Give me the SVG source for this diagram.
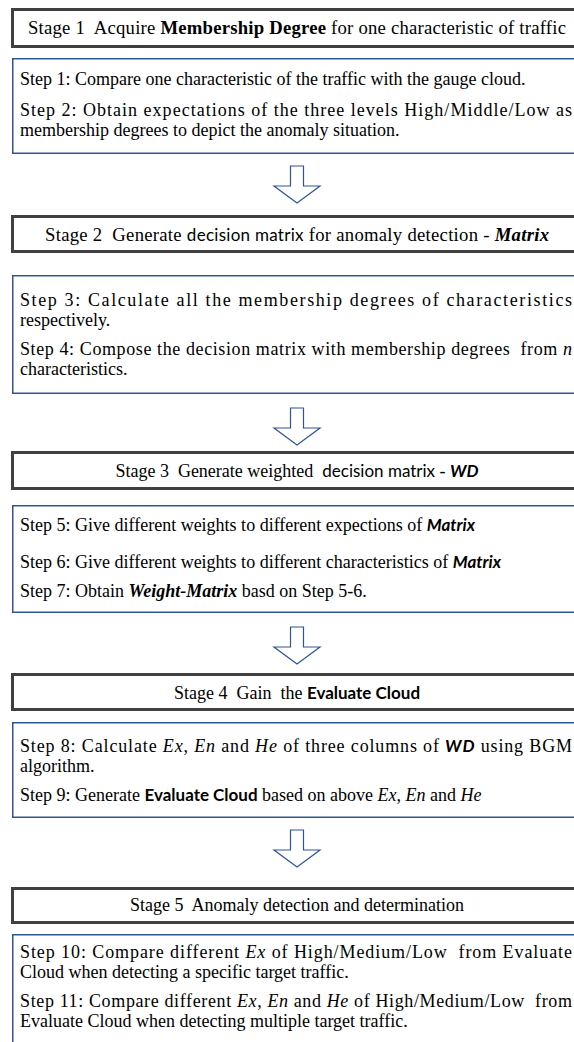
<svg xmlns="http://www.w3.org/2000/svg" width="574" height="1042" viewBox="0 0 574 1042">
<defs>
<style>
.stage{fill:#fff;stroke:#404040;stroke-width:3}
.step{fill:#fff;stroke:#2F5597;stroke-width:1.5}
.arrow{fill:#fff;stroke:#2F5597;stroke-width:1.2;stroke-linejoin:miter}
text{font-family:"Liberation Serif","Times New Roman",serif;font-size:18px;fill:#000;white-space:pre}
.c{text-anchor:middle}
.big{font-size:18.7px}
.b{font-weight:bold}
.i{font-style:italic}
.bi{font-weight:bold;font-style:italic}
.sans{font-family:Lato,"Liberation Sans",sans-serif;font-size:17px}
</style>
</defs>
<rect width="574" height="1042" fill="#fff"/>
<g id="connectors">
<polygon class="arrow" points="290.5,166 303.5,166 303.5,186 320,186 297,203 274,186 290.5,186"/>
<polygon class="arrow" points="290.5,408 303.5,408 303.5,428 320,428 297,445 274,428 290.5,428"/>
<polygon class="arrow" points="290.5,627 303.5,627 303.5,647 320,647 297,664 274,647 290.5,647"/>
<polygon class="arrow" points="290.5,830 303.5,830 303.5,850 320,850 297,867 274,850 290.5,850"/>
</g>
<g id="stage1">
<rect class="stage" x="12.5" y="9.5" width="600" height="37"/>
<text class="c big" x="297" y="34" textLength="538" lengthAdjust="spacing">Stage 1  Acquire <tspan class="b">Membership Degree</tspan> for one characteristic of traffic</text>
</g>
<g id="steps1">
<rect class="step" x="12.75" y="58.75" width="600" height="94.5"/>
<text x="20" y="85">Step 1: Compare one characteristic of the traffic with the gauge cloud.</text>
<text x="20" y="116" textLength="552" lengthAdjust="spacing">Step 2: Obtain expectations of the three levels High/Middle/Low as</text>
<text x="20" y="136">membership degrees to depict the anomaly situation.</text>
</g>
<g id="stage2">
<rect class="stage" x="12.5" y="216.5" width="600" height="35"/>
<text class="c big" x="297" y="241" textLength="504" lengthAdjust="spacing">Stage 2  Generate <tspan class="sans">decision matrix</tspan> for anomaly detection - <tspan class="bi">Matrix</tspan></text>
</g>
<g id="steps2">
<rect class="step" x="12.75" y="275.75" width="600" height="117.5"/>
<text x="20" y="306" textLength="552" lengthAdjust="spacing">Step 3: Calculate all the membership degrees of characteristics</text>
<text x="20" y="326">respectively.</text>
<text x="20" y="355" textLength="552" lengthAdjust="spacing">Step 4: Compose the decision matrix with membership degrees  from <tspan class="i">n</tspan></text>
<text x="20" y="375">characteristics.</text>
</g>
<g id="stage3">
<rect class="stage" x="12.5" y="452.5" width="600" height="36"/>
<text class="c" x="297" y="477">Stage 3  Generate weighted  <tspan class="sans">decision matrix</tspan> - <tspan class="sans bi">WD</tspan></text>
</g>
<g id="steps3">
<rect class="step" x="12.75" y="505.75" width="600" height="106.5"/>
<text x="20" y="531">Step 5: Give different weights to different expections of <tspan class="sans bi">Matrix</tspan></text>
<text x="20" y="568">Step 6: Give different weights to different characteristics of <tspan class="sans bi">Matrix</tspan></text>
<text x="20" y="597">Step 7: Obtain <tspan class="bi">Weight-Matrix</tspan> basd on Step 5-6.</text>
</g>
<g id="stage4">
<rect class="stage" x="12.5" y="674.5" width="600" height="35"/>
<text class="c" x="297" y="699">Stage 4  Gain  the <tspan class="sans b">Evaluate Cloud</tspan></text>
</g>
<g id="steps4">
<rect class="step" x="12.75" y="722.75" width="600" height="94.5"/>
<text x="20" y="752" textLength="552" lengthAdjust="spacing">Step 8: Calculate <tspan class="i">Ex</tspan>, <tspan class="i">En</tspan> and <tspan class="i">He</tspan> of three columns of <tspan class="sans bi">WD</tspan> using BGM</text>
<text x="20" y="772">algorithm.</text>
<text x="20" y="801">Step 9: Generate <tspan class="sans b">Evaluate Cloud</tspan> based on above <tspan class="i">Ex</tspan>, <tspan class="i">En</tspan> and <tspan class="i">He</tspan></text>
</g>
<g id="stage5">
<rect class="stage" x="12.5" y="888.5" width="600" height="34"/>
<text class="c" x="297" y="911">Stage 5  Anomaly detection and determination</text>
</g>
<g id="steps5">
<rect class="step" x="12.75" y="934.75" width="600" height="130"/>
<text x="20" y="958" textLength="552" lengthAdjust="spacing">Step 10: Compare different <tspan class="i">Ex</tspan> of High/Medium/Low  from Evaluate</text>
<text x="20" y="978">Cloud when detecting a specific target traffic.</text>
<text x="20" y="1007" textLength="552" lengthAdjust="spacing">Step 11: Compare different <tspan class="i">Ex</tspan>, <tspan class="i">En</tspan> and <tspan class="i">He</tspan> of High/Medium/Low  from</text>
<text x="20" y="1027">Evaluate Cloud when detecting multiple target traffic.</text>
</g>
</svg>
